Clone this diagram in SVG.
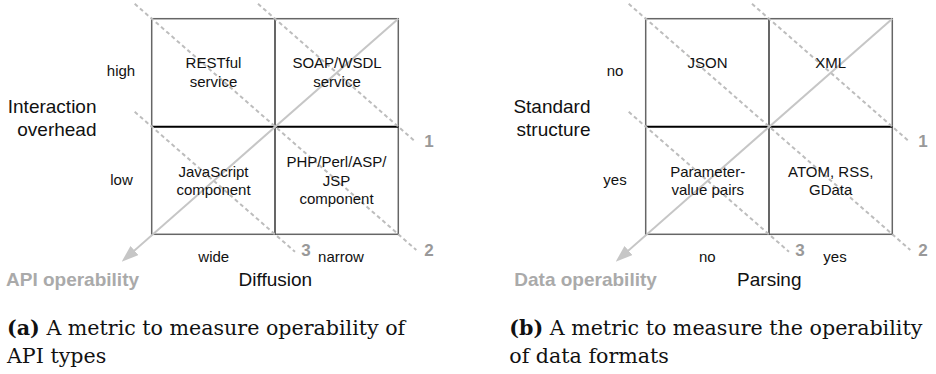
<svg xmlns="http://www.w3.org/2000/svg" width="936" height="374" viewBox="0 0 936 374">
  <style>
    .sans { font-family: "Liberation Sans", Arial, sans-serif; fill: #111; }
    .cell { font-size: 15px; text-anchor: middle; }
    .tick { font-size: 15px; text-anchor: middle; }
    .axis { font-size: 19px; }
    .metric { font-size: 19px; font-weight: bold; fill: #aaa; }
    .num { font-size: 17px; font-weight: bold; fill: #999; text-anchor: middle; }
    .cap { font-family: "DejaVu Serif", "Liberation Serif", serif; font-size: 20.6px; fill: #111; }
    .frame { fill: none; stroke: #666; stroke-width: 1.5; }
    .vmid { stroke: #000; stroke-width: 1.2; }
    .hmid { stroke: #000; stroke-width: 2; }
    .dash { stroke: #bdbdbd; stroke-width: 2; stroke-dasharray: 4 3; fill: none; }
    .axisline { stroke: #c6c6c6; stroke-width: 2; fill: none; }
  </style>
  <defs>
    <marker id="arrowhead" markerUnits="userSpaceOnUse" viewBox="0 0 17 12" markerWidth="17" markerHeight="12" refX="9" refY="6" orient="auto">
      <path d="M0,0 L17,6 L0,12 z" fill="#c6c6c6"/>
    </marker>
    <!-- shared 2x2 grid: outer frame plus the two dividing lines -->
    <g id="grid">
      <rect class="frame" x="151.7" y="18.7" width="246.6" height="215.6"/>
      <line class="vmid" x1="275" y1="18.7" x2="275" y2="234.3"/>
      <line class="hmid" x1="151.7" y1="126.7" x2="398.3" y2="126.7"/>
    </g>
    <!-- dashed iso-lines and the metric axis with its arrow -->
    <g id="guides">
      <line class="dash" x1="134.7" y1="3.8" x2="416.3" y2="250"/>
      <line class="dash" x1="258" y1="3.8" x2="415.3" y2="141.6"/>
      <line class="dash" x1="134.7" y1="111.8" x2="295" y2="251.8"/>
      <line class="axisline" x1="398.3" y1="18.7" x2="127.7" y2="256.4" marker-end="url(#arrowhead)"/>
    </g>
  </defs>

  <!-- (a) API types -->
  <g id="panel-a">
    <use href="#grid"/>
    <g id="connectors-a">
      <use href="#guides"/>
    </g>
    <g id="restful" class="sans cell">
      <text x="213.5" y="68.3">RESTful</text>
      <text x="213.5" y="86.5">service</text>
    </g>
    <g id="soap" class="sans cell">
      <text x="337" y="68.3">SOAP/WSDL</text>
      <text x="337" y="86.5">service</text>
    </g>
    <g id="javascript" class="sans cell">
      <text x="213.5" y="176.5">JavaScript</text>
      <text x="213.5" y="195">component</text>
    </g>
    <g id="php" class="sans cell">
      <text x="336.5" y="167.3">PHP/Perl/ASP/</text>
      <text x="336.5" y="185.8">JSP</text>
      <text x="336.5" y="204.3">component</text>
    </g>
    <g id="labels-a" class="sans">
      <text class="tick" x="121" y="76">high</text>
      <text class="tick" x="121.5" y="185">low</text>
      <text class="tick" x="213.8" y="262">wide</text>
      <text class="tick" x="341" y="262">narrow</text>
      <text class="axis" x="96.5" y="112.8" text-anchor="end">Interaction</text>
      <text class="axis" x="96.5" y="136" text-anchor="end">overhead</text>
      <text class="axis" x="275.3" y="286" text-anchor="middle">Diffusion</text>
      <text class="metric" x="6" y="286">API operability</text>
      <text class="num" x="429" y="146.7">1</text>
      <text class="num" x="429" y="255.7">2</text>
      <text class="num" x="306" y="255.7">3</text>
    </g>
    <text class="cap" x="7" y="335"><tspan font-weight="bold">(a)</tspan> A metric to measure operability of</text>
    <text class="cap" x="7" y="363">API types</text>
  </g>

  <!-- (b) data formats -->
  <g id="panel-b">
    <use href="#grid" x="494"/>
    <g id="connectors-b">
      <use href="#guides" x="494"/>
    </g>
    <g id="json" class="sans cell">
      <text x="707.5" y="68.3">JSON</text>
    </g>
    <g id="xml" class="sans cell">
      <text x="830.7" y="68.3">XML</text>
    </g>
    <g id="param" class="sans cell">
      <text x="707.7" y="176.5">Parameter-</text>
      <text x="707.7" y="195">value pairs</text>
    </g>
    <g id="atom" class="sans cell">
      <text x="830.7" y="176.5">ATOM, RSS,</text>
      <text x="830.7" y="195">GData</text>
    </g>
    <g id="labels-b" class="sans">
      <text class="tick" x="615" y="76">no</text>
      <text class="tick" x="615" y="185">yes</text>
      <text class="tick" x="707.3" y="262">no</text>
      <text class="tick" x="835" y="262">yes</text>
      <text class="axis" x="590.5" y="112.8" text-anchor="end">Standard</text>
      <text class="axis" x="590.5" y="136" text-anchor="end">structure</text>
      <text class="axis" x="769.3" y="286" text-anchor="middle">Parsing</text>
      <text class="metric" x="514.3" y="286">Data operability</text>
      <text class="num" x="923" y="146.7">1</text>
      <text class="num" x="923" y="255.7">2</text>
      <text class="num" x="800" y="255.7">3</text>
    </g>
    <text class="cap" x="509.3" y="335"><tspan font-weight="bold">(b)</tspan> A metric to measure the operability</text>
    <text class="cap" x="509.3" y="363">of data formats</text>
  </g>
</svg>
